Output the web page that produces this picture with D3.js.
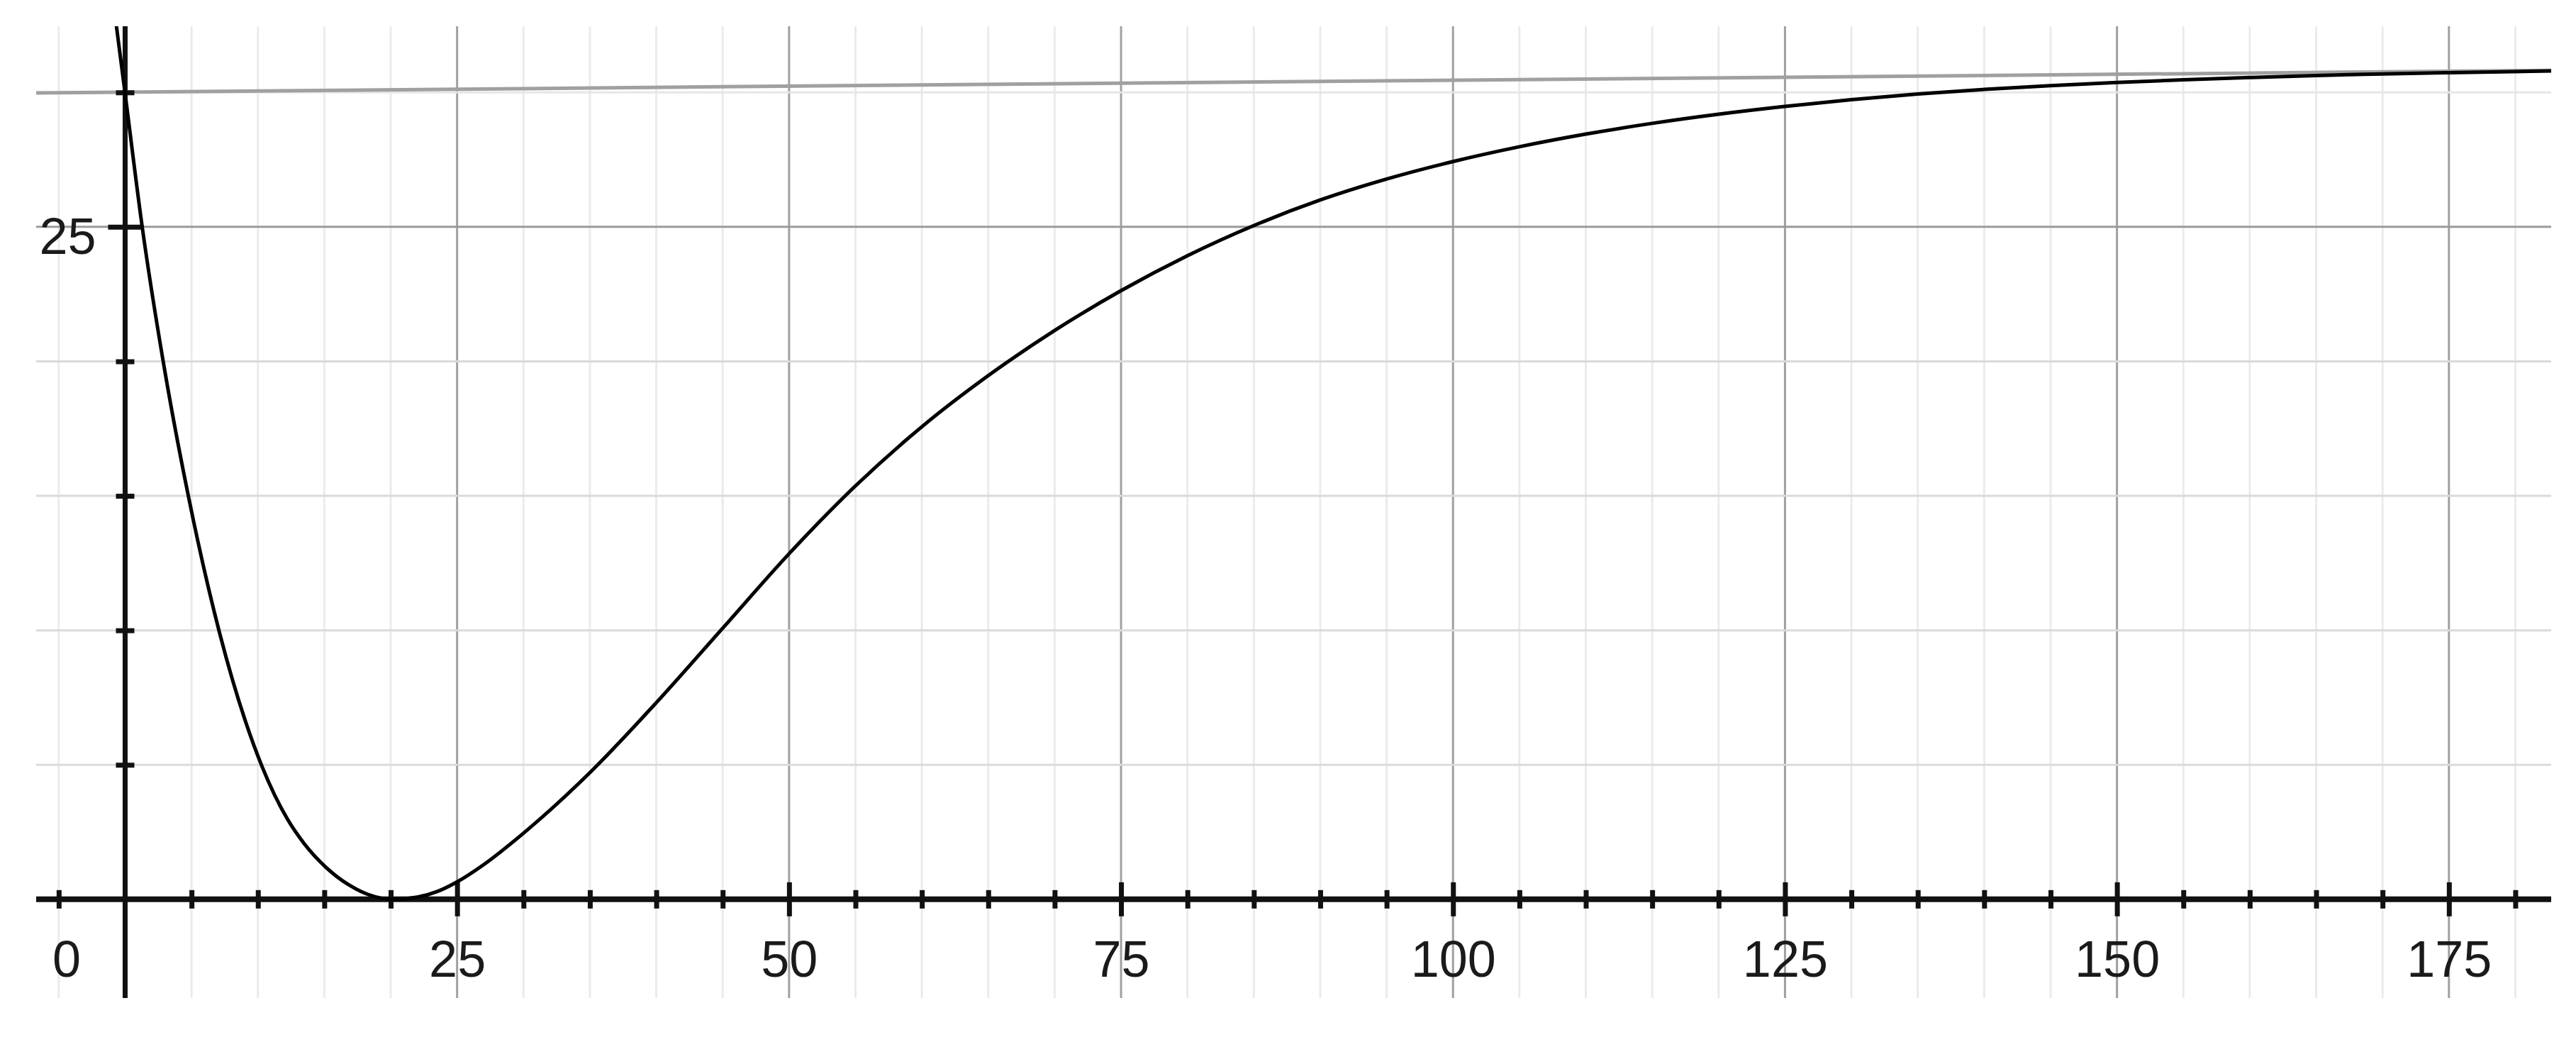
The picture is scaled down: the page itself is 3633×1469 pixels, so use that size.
<!DOCTYPE html>
<html>
<head>
<meta charset="utf-8">
<script src="https://cdn.jsdelivr.net/npm/d3@7"></script>
<style>
body { margin:0; background:#fff; }
svg { display:block; }
text { font-family: "Liberation Sans", Arial, Helvetica, sans-serif; fill:#1a1a1a; }
</style>
</head>
<body>
<svg id="plot"></svg>
<script>
// curve (x, y)
var curveX = [-0.9, 0, 1.3, 2.9, 4.8, 7.1, 10.3, 12.2, 13.5, 15.1, 16.8, 18.3,
              20.2, 22, 23.5, 25, 27, 30, 35, 40, 45, 50, 55, 60, 65, 70, 75,
              80, 85, 90, 95, 100, 105, 110, 115, 120, 125, 130, 135, 140,
              145, 150, 155, 160, 165, 170, 175, 183];
var curveY = [33.4, 29.95, 24.95, 19.9, 14.9, 9.93, 4.95, 3.0, 2.06, 1.2, 0.55, 0.18,
              0, 0.08, 0.29, 0.65, 1.29, 2.46, 4.71, 7.31, 10.08, 12.85, 15.37,
              17.57, 19.47, 21.15, 22.63, 23.93, 25.05, 26.0, 26.78, 27.43,
              27.98, 28.45, 28.85, 29.19, 29.48, 29.73, 29.94, 30.11, 30.25,
              30.37, 30.47, 30.555, 30.63, 30.685, 30.735, 30.8];

// the grey straight line near the top (two ends)
var lineX = [-6.7, 182.7];
var lineY = [29.98, 30.82];

// ticks and labels
var xMinorTicks = d3.range(-5, 181, 5).filter(function(d){ return d % 25 != 0; });
var xMajorTicks = [25, 50, 75, 100, 125, 150, 175];
var yMinorTicks = [5, 10, 15, 20, 30];
var yMajorTicks = [25];
var originLabel = "0";

var screen = {width:3633, height:1469};
var margins = {top:37, bottom:62, left:51, right:35};
var graph = {
    width: screen.width - margins.left - margins.right,
    height: screen.height - margins.top - margins.bottom
};

var svg = d3.select("#plot")
    .attr("width", screen.width)
    .attr("height", screen.height);

var xScale = d3.scaleLinear()
    .domain([-6.7, 182.7])
    .range([0, graph.width]);
var yScale = d3.scaleLinear()
    .domain([-3.67, 32.46])
    .range([graph.height, 0]);

svg.append("defs").append("clipPath")
    .attr("id", "clip")
    .append("rect")
    .attr("width", graph.width)
    .attr("height", graph.height);

var g = svg.append("g")
    .attr("transform", "translate(" + margins.left + "," + margins.top + ")");

//vertical grid lines
g.append("g").selectAll("line")
    .data(xMinorTicks.concat(xMajorTicks))
    .enter()
    .append("line")
    .attr("x1", function(d){ return xScale(d); })
    .attr("x2", function(d){ return xScale(d); })
    .attr("y1", 0)
    .attr("y2", graph.height)
    .attr("stroke", function(d){ return d % 25 == 0 ? "#a0a0a0" : "#ebebeb"; })
    .attr("stroke-width", 3);

//horizontal grid lines
g.append("g").selectAll("line")
    .data(yMinorTicks.concat(yMajorTicks))
    .enter()
    .append("line")
    .attr("x1", 0)
    .attr("x2", graph.width)
    .attr("y1", function(d){ return yScale(d); })
    .attr("y2", function(d){ return yScale(d); })
    .attr("stroke", function(d){
        if (d == 25) return "#9a9a9a";
        if (d == 30) return "#e6e6e6";
        return "#dadada";
    })
    .attr("stroke-width", 3);

// grey straight line
g.append("line")
    .attr("x1", xScale(lineX[0]))
    .attr("y1", yScale(lineY[0]))
    .attr("x2", xScale(lineX[1]))
    .attr("y2", yScale(lineY[1]))
    .attr("stroke", "#a0a0a0")
    .attr("stroke-width", 5);

// axes: ticks cross the line on both sides
var drawXAxis = function(ticks, size)
{
    var ax = g.append("g")
        .attr("transform", "translate(0," + yScale(0) + ")")
        .call(d3.axisBottom(xScale).tickValues(ticks).tickSize(0).tickFormat(""));
    ax.select(".domain").remove();
    ax.selectAll(".tick line")
        .attr("y1", -size).attr("y2", size)
        .attr("stroke", "#111").attr("stroke-width", 7);
    return ax;
};
var drawYAxis = function(ticks, size)
{
    var ax = g.append("g")
        .attr("transform", "translate(" + xScale(0) + ",0)")
        .call(d3.axisLeft(yScale).tickValues(ticks).tickSize(0).tickFormat(""));
    ax.select(".domain").remove();
    ax.selectAll(".tick line")
        .attr("x1", -size).attr("x2", size)
        .attr("stroke", "#111").attr("stroke-width", 7);
    return ax;
};

drawXAxis(xMinorTicks, 13);
var xMajor = drawXAxis(xMajorTicks, 24);
drawYAxis(yMinorTicks, 13);
var yMajor = drawYAxis(yMajorTicks, 24);

// axis lines
g.append("line")
    .attr("x1", 0).attr("x2", graph.width)
    .attr("y1", yScale(0)).attr("y2", yScale(0))
    .attr("stroke", "#111").attr("stroke-width", 8);
g.append("line")
    .attr("x1", xScale(0)).attr("x2", xScale(0))
    .attr("y1", 0).attr("y2", graph.height)
    .attr("stroke", "#111").attr("stroke-width", 7);

// tick labels
xMajor.selectAll(".tick")
    .append("text")
    .attr("y", 109)
    .attr("text-anchor", "middle")
    .attr("font-size", 72)
    .text(function(d){ return d; });

yMajor.selectAll(".tick")
    .append("text")
    .attr("x", -41)
    .attr("y", 38)
    .attr("text-anchor", "end")
    .attr("font-size", 72)
    .text(function(d){ return d; });

g.append("text")
    .attr("x", xScale(-4.4))
    .attr("y", yScale(0) + 109)
    .attr("text-anchor", "middle")
    .attr("font-size", 72)
    .text(originLabel);

// the curve
var points = curveX.map(function(x, i){ return {x:x, y:curveY[i]}; });
var line = d3.line()
    .x(function(d){ return xScale(d.x); })
    .y(function(d){ return yScale(d.y); })
    .curve(d3.curveMonotoneX);

g.append("path")
    .datum(points)
    .attr("clip-path", "url(#clip)")
    .attr("d", line)
    .attr("fill", "none")
    .attr("stroke", "#000")
    .attr("stroke-width", 5);
</script>
</body>
</html>
